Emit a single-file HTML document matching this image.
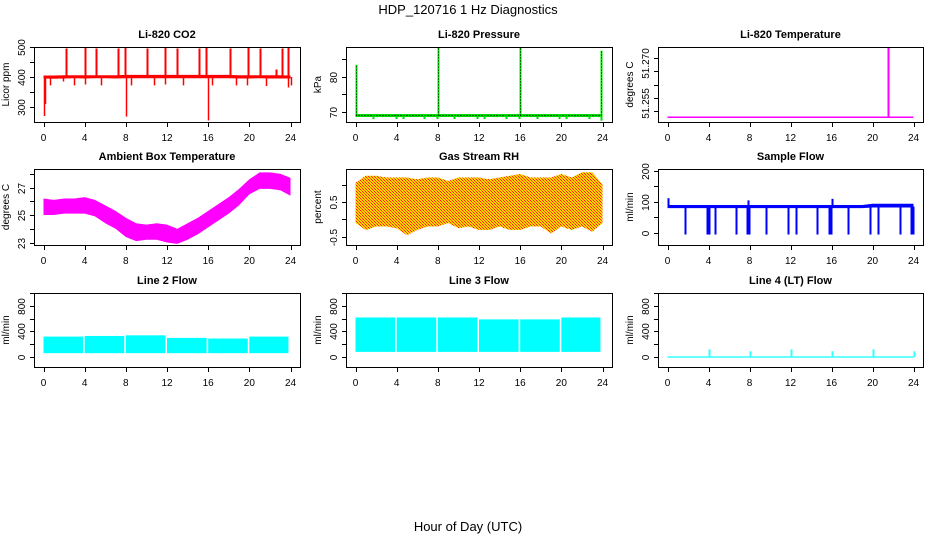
<!DOCTYPE html>
<html><head><meta charset="utf-8">
<style>
body{margin:0;background:#fff;}
svg{display:block;font-family:"Liberation Sans",sans-serif;}
</style></head>
<body>
<svg id="c" width="936" height="540" viewBox="0 0 936 540">
<defs>
<pattern id="rhpat" width="3" height="3" patternUnits="userSpaceOnUse">
<rect width="3" height="3" fill="#ffd400"/><rect width="1" height="1" fill="#ff2000"/><rect x="1" y="1" width="1" height="1" fill="#ff6000"/><rect x="2" y="2" width="1" height="1" fill="#ff2000"/>
</pattern>
</defs>
<text x="468" y="14" text-anchor="middle" font-size="13">HDP_120716  1 Hz Diagnostics</text>
<text x="468" y="531" text-anchor="middle" font-size="13">Hour of Day (UTC)</text>
</svg>
<script>
// ---- data ----
const hourTicks=[0,4,8,12,16,20,24];
const hours=[0,1,2,3,4,5,6,7,8,9,10,11,12,13,14,15,16,17,18,19,20,21,22,23,24];
// CO2
const co2Lo=[395,394,395,396,395,396,396,395,396,396,396,396,396,396,396,396,396,396,396,395,395,396,395,395,395];
const co2Hi=[405,405,406,406,406,406,406,406,407,407,407,407,407,407,407,407,407,407,407,406,406,406,406,406,405];
const co2SpikeT=[2.2,4.0,5.1,7.2,7.9,10.1,11.8,13.0,15.1,15.8,18.1,19.9,21.0,22.6,23.2,23.8];
const co2SpikeV=[495,497,495,495,497,495,497,495,495,497,495,497,495,425,495,500];
const co2DipT=[0.05,0.1,0.6,1.9,3.0,4.0,5.6,8.0,8.5,10.7,11.8,13.6,16.0,16.4,18.7,19.8,21.6,23.8,24.0];
const co2DipV=[270,310,372,385,372,375,372,268,372,372,375,372,255,372,372,372,370,365,372];
// Pressure
const presBase=69.0;
const presSpikeT=[0.05,8.0,16.0,23.9];
const presSpikeV=[83.5,88.5,88.5,87.5];
const presDipT=[1.7,3.9,4.6,6.7,7.9,9.6,11.8,12.5,14.6,15.9,17.6,19.8,20.5,22.7,23.9];
const presDipV=[68.0,68.0,68.0,68.0,68.0,68.0,68.0,68.0,68.0,68.0,68.0,68.0,68.0,68.0,67.5];
// Li-820 temperature
const tempBase=51.2526;
const tempSpikeT=[21.5];
const tempSpikeV=[51.279];
// Ambient box temp
const ambHi=[26.2,26.1,26.2,26.2,26.3,26.1,25.7,25.3,24.8,24.4,24.3,24.4,24.3,24.0,24.4,24.8,25.3,25.8,26.3,26.9,27.6,28.1,28.1,28.0,27.7];
const ambLo=[25.0,25.0,25.1,25.1,25.1,24.9,24.4,24.0,23.4,23.1,23.2,23.2,23.0,22.9,23.2,23.6,24.1,24.6,25.1,25.7,26.5,26.9,26.9,26.8,26.4];
// Gas stream RH
const rhHi=[1.05,1.25,1.25,1.2,1.2,1.2,1.15,1.2,1.2,1.1,1.2,1.2,1.2,1.15,1.2,1.25,1.3,1.2,1.2,1.2,1.3,1.2,1.35,1.35,1.0];
const rhLo=[-0.1,-0.3,-0.2,-0.2,-0.25,-0.45,-0.3,-0.2,-0.2,-0.1,-0.25,-0.2,-0.3,-0.3,-0.2,-0.3,-0.3,-0.2,-0.2,-0.4,-0.2,-0.3,-0.2,-0.35,-0.1];
// Sample flow
const sfLo=[80,80,80,80,80,80,80,80,80,80,80,80,80,80,80,80,80,80,80,80,82,82,82,82,82];
const sfHi=[90,90,90,90,90,90,90,90,90,90,90,90,90,90,90,90,90,90,90,90,94,94,94,94,94];
const sfDipT=[1.7,3.9,4.0,4.6,6.7,7.8,7.95,9.6,11.8,12.5,14.6,15.8,15.95,17.6,19.8,20.5,22.7,23.8,23.95];
const sfDipV=[-5,-5,-5,-5,-5,-5,-5,-5,-5,-5,-5,-5,-5,-5,-5,-5,-5,-5,-5];
const sfSpikeT=[0.0,7.9,16.0];
const sfSpikeV=[112,105,110];
// Line flows
const segStart=[0,4,8,12,16,20];
const segEnd=[3.85,7.85,11.85,15.85,19.85,23.8];
const l2Hi=[320,330,340,300,290,320];
const l2Lo=[60,60,60,60,60,60];
const l3Hi=[620,620,620,590,590,620];
const l3Lo=[80,80,80,80,80,80];
const l4Base=0;
const l4SpikeT=[4,8,12,16,20,24];
const l4SpikeV=[120,90,120,90,120,90];

// ---- layout ----
const NS="http://www.w3.org/2000/svg";
const svg=document.getElementById('c');
const cols=[[34,300],[346,612],[658,923]];
const rows=[[47,122],[169,245],[293,367]];
function mk(tag,attrs,parent){const e=document.createElementNS(NS,tag);for(const k in attrs)e.setAttribute(k,attrs[k]);(parent||svg).appendChild(e);return e;}

function panel(ci,ri,name,title,ylab,ymin,ymax,ticks,labels,labelShift){
  const [L,R]=cols[ci],[T,B]=rows[ri];
  const g=mk('g',{});
  
  
  const xs=t=>L+9.5+t/24*(R-L-19);
  const ys=v=>B-(v-ymin)/(ymax-ymin)*(B-T);
  const plot=mk('g',{},g);
  
  
  const box=mk('rect',{x:L+0.5,y:T+0.5,width:R-L,height:B-T,fill:'none',stroke:'#000','stroke-width':1},g);
  
  
  const t=mk('text',{x:(L+R)/2,y:T-9,'text-anchor':'middle','font-size':11,'font-weight':'bold'},g);
  t.textContent=title;
  
  
  const xa=mk('g',{stroke:'#000','stroke-width':1},g);
  
  
  mk('line',{x1:xs(0),x2:xs(24),y1:B+0.5,y2:B+0.5},xa);
  hourTicks.forEach(h=>{
    mk('line',{x1:Math.round(xs(h))+0.5,x2:Math.round(xs(h))+0.5,y1:B,y2:B+5},xa);
    const tx=mk('text',{x:xs(h),y:B+19,'text-anchor':'middle','font-size':10,stroke:'none'},xa);
    tx.textContent=h;
    
    
  });
  const ya=mk('g',{stroke:'#000','stroke-width':1},g);
  
  
  mk('line',{x1:L+0.5,x2:L+0.5,y1:ys(ticks[0]),y2:ys(ticks[ticks.length-1])},ya);
  ticks.forEach((v,i)=>{
    const y=Math.round(ys(v))+0.5;
    mk('line',{x1:L-4,x2:L,y1:y,y2:y},ya);
    if(labels[i]){
      const yy=y+(labelShift||0);
      const tx=mk('text',{x:L-9,y:yy,'text-anchor':'middle','font-size':10,stroke:'none',transform:`rotate(-90 ${L-9} ${yy})`},ya);
      tx.textContent=labels[i];
      
      
    }
  });
  const yl=mk('text',{x:L-25,y:(T+B)/2,'text-anchor':'middle','font-size':10,transform:`rotate(-90 ${L-25} ${(T+B)/2})`},g);
  yl.textContent=ylab;
  
  
  return {plot,xs,ys};
}
function band(p,ts,lo,hi,fill){
  let d='M'+ts.map((t,i)=>p.xs(t)+','+p.ys(hi[i])).join('L');
  d+='L'+ts.slice().reverse().map((t,j)=>{const i=ts.length-1-j;return p.xs(t)+','+p.ys(lo[i]);}).join('L')+'Z';
  const e=mk('path',{d,fill,stroke:'none'},p.plot);
  
  
}
function vlines(p,ts,from,vals,color,w,dash){
  ts.forEach((t,i)=>{
    const x=Math.round(p.xs(t))+0.5;
    const e=mk('line',{x1:x,x2:x,y1:p.ys(Array.isArray(from)?from[i]:from),y2:p.ys(vals[i]),stroke:color,'stroke-width':w||1.5,'stroke-dasharray':dash||'none'},p.plot);
    
    
  });
}
function hline(p,v,color,w,dash){
  const y=p.ys(v);
  const e=mk('line',{x1:p.xs(0),x2:p.xs(24),y1:y,y2:y,stroke:color,'stroke-width':w,'stroke-dasharray':dash||'none'},p.plot);
  
  
}
function blocks(p,lo,hi,color){
  segStart.forEach((s,i)=>{
    const x0=p.xs(s),x1=p.xs(segEnd[i]);
    const e=mk('rect',{x:x0,y:p.ys(hi[i]),width:x1-x0,height:p.ys(lo[i])-p.ys(hi[i]),fill:color},p.plot);
    
    
  });
}

let p=panel(0,0,'co2','Li-820 CO2','Licor ppm',250,500,[300,350,400,450,500],['300','','400','','500']);
band(p,hours,co2Lo,co2Hi,'#ff0000');
vlines(p,co2SpikeT,400,co2SpikeV,'#ff0000',2);
vlines(p,co2DipT,400,co2DipV,'#ff0000',1.5);

p=panel(1,0,'pressure','Li-820 Pressure','kPa',67.14,88.57,[70,75,80,85],['70','','80','']);
hline(p,presBase,'#00dd00',3);
hline(p,presBase,'#000',1,'1,2');
vlines(p,presSpikeT,presBase,presSpikeV,'#00ee00',2);
vlines(p,presSpikeT,presBase,presSpikeV,'#000',1,'1,2');
vlines(p,presDipT,presBase,presDipV,'#00dd00',2);

p=panel(2,0,'li820-temperature','Li-820 Temperature','degrees C',51.2508,51.2792,[51.255,51.26,51.265,51.27,51.275],['51.255','','','51.270',''],-8);
hline(p,tempBase,'#ff00ff',1.5);
vlines(p,tempSpikeT,tempBase,tempSpikeV,'#ff00ff',2);

p=panel(0,1,'ambient-temperature','Ambient Box Temperature','degrees C',22.82,28.35,[23,24,25,26,27,28],['23','','25','','27','']);
band(p,hours,ambLo,ambHi,'#ff00ff');

p=panel(1,1,'gas-rh','Gas Stream RH','percent',-0.729,1.443,[-0.5,0,0.5,1.0],['-0.5','','0.5','']);
band(p,hours,rhLo,rhHi,'url(#rhpat)');

p=panel(2,1,'sample-flow','Sample Flow','ml/min',-38.7,206,[0,50,100,150,200],['0','','100','','200']);
band(p,hours,sfLo,sfHi,'#0000ff');
vlines(p,sfDipT,85,sfDipV,'#0000ff',2);
vlines(p,sfSpikeT,85,sfSpikeV,'#0000ff',2);

const flowTicks=[0,200,400,600,800,1000];
const flowLabels=['0','','400','','800',''];
p=panel(0,2,'line2-flow','Line 2 Flow','ml/min',-157,1004,flowTicks,flowLabels);
blocks(p,l2Lo,l2Hi,'#00ffff');
p=panel(1,2,'line3-flow','Line 3 Flow','ml/min',-157,1004,flowTicks,flowLabels);
blocks(p,l3Lo,l3Hi,'#00ffff');
p=panel(2,2,'line4-flow','Line 4 (LT) Flow','ml/min',-157,1004,flowTicks,flowLabels);
hline(p,l4Base,'#33ffff',1.5);
vlines(p,l4SpikeT,l4Base,l4SpikeV,'#33ffff',2);
</script>
</body></html>
